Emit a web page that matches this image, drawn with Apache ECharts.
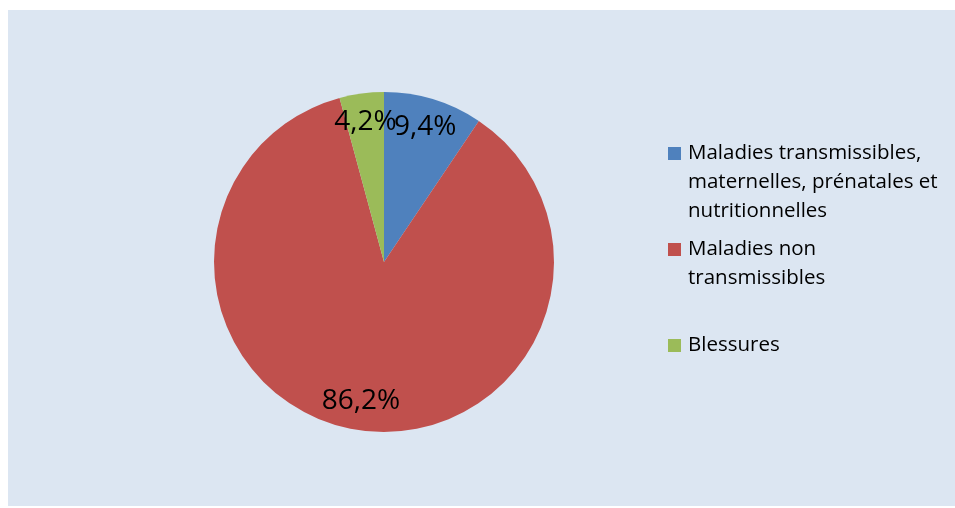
<!DOCTYPE html>
<html>
<head>
<meta charset="utf-8">
<script src="https://cdn.jsdelivr.net/npm/echarts@6/dist/echarts.min.js"></script>
<style>
  html, body { margin: 0; padding: 0; background: #ffffff; }
  #chart { width: 955px; height: 508px; }
</style>
</head>
<body>
<div id="chart"></div>
<script>
// Répartition par grande cause (%)
const categories = [
  'Maladies transmissibles, maternelles, prénatales et nutritionnelles',
  'Maladies non transmissibles',
  'Blessures'
];
const values = [9.4, 86.2, 4.2];
const colors = ['#4f81bd', '#c0504d', '#9bbb59'];
// Legend text broken into lines as displayed
const legendLines = [
  ['Maladies transmissibles,', 'maternelles, prénatales et', 'nutritionnelles'],
  ['Maladies non', 'transmissibles'],
  ['Blessures']
];

const FONT = '"Open Sans", Lato, sans-serif';
const fmtPct = v => v.toFixed(1).replace('.', ',') + '%';

const chart = echarts.init(document.getElementById('chart'), null, { renderer: 'canvas' });

const rich = {
  t: { fontFamily: FONT, fontSize: 20.5, lineHeight: 29, color: '#000000' },
  gap: { width: 7 },
  ind: { width: 20 },
  tail: { width: 1, lineHeight: 38 }
};
colors.forEach((c, i) => {
  rich['sq' + i] = { width: 13, height: 13, backgroundColor: c };
});

const dataItems = categories.map((name, i) => ({
  name: name,
  value: values[i],
  itemStyle: { color: colors[i] }
}));

chart.setOption({
  backgroundColor: '#ffffff',
  animation: false,
  graphic: [{
    type: 'rect',
    left: 8, top: 10,
    shape: { width: 947, height: 496 },
    style: { fill: '#dce6f2' },
    z: -10, silent: true
  }],
  legend: {
    orient: 'vertical',
    left: 658,
    top: 138,
    itemWidth: 0,
    itemHeight: 0,
    itemGap: 17,
    icon: 'rect',
    data: categories,
    formatter: function (name) {
      const i = categories.indexOf(name);
      const lines = legendLines[i].map((ln, k) =>
        (k === 0 ? '{sq' + i + '|}{gap|}' : '{ind|}') + '{t|' + ln + '}'
      );
      let s = lines.join('\n');
      if (i === 1) s += '\n{tail|}';
      return s;
    },
    textStyle: { rich: rich }
  },
  series: [
    {
      type: 'pie',
      center: [384, 262],
      radius: [0, 170],
      startAngle: 90,
      clockwise: true,
      label: { show: false },
      labelLine: { show: false },
      itemStyle: { borderWidth: 0 },
      emphasis: { scale: false },
      data: dataItems
    },
    {
      // transparent ring only used to place the percentage labels near the rim
      type: 'pie',
      center: [384, 262],
      radius: [106, 170],
      startAngle: 90,
      clockwise: true,
      silent: true,
      legendHoverLink: false,
      avoidLabelOverlap: false,
      itemStyle: { color: 'transparent', borderWidth: 0 },
      emphasis: { disabled: true },
      label: {
        show: true,
        position: 'inside',
        fontFamily: FONT,
        fontSize: 28,
        color: '#000000',
        formatter: p => fmtPct(p.value)
      },
      labelLayout: { hideOverlap: false },
      labelLine: { show: false },
      data: categories.map((name, i) => ({ name: name, value: values[i] }))
    }
  ]
});
</script>
</body>
</html>
